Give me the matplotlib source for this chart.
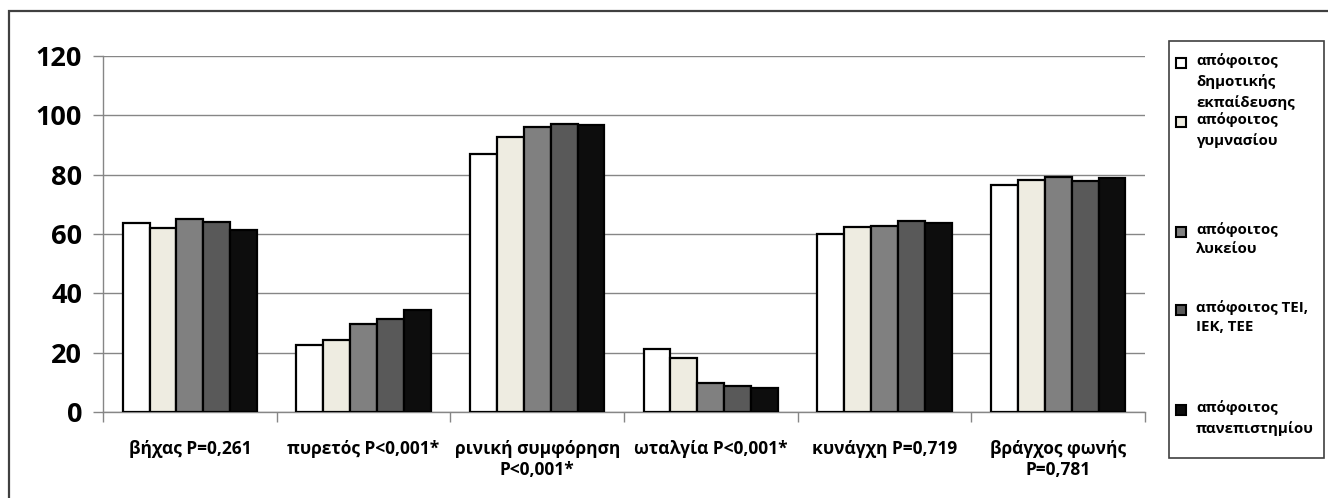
import numpy as np
import matplotlib.pyplot as plt
from matplotlib.patches import Rectangle

plt.rcParams['font.family'] = ['Open Sans', 'DejaVu Sans']
plt.rcParams['font.weight'] = 'bold'

categories = ['βήχας P=0,261', 'πυρετός P<0,001*', 'ρινική συμφόρηση\nP<0,001*',
              'ωταλγία P<0,001*', 'κυνάγχη P=0,719', 'βράγχος φωνής\nP=0,781']
series_names = ['απόφοιτος\nδημοτικής\nεκπαίδευσης', 'απόφοιτος\nγυμνασίου',
                'απόφοιτος\nλυκείου', 'απόφοιτος ΤΕΙ,\nΙΕΚ, ΤΕΕ', 'απόφοιτος\nπανεπιστημίου']
dimotiko = [63.6, 22.6, 86.8, 21.1, 60.1, 76.5]
gymnasio = [62.1, 24.3, 92.6, 18.3, 62.2, 78.1]
lykeio = [65.0, 29.8, 96.1, 9.7, 62.7, 79.2]
tei = [64.1, 31.2, 97.1, 8.8, 64.3, 77.9]
panepistimio = [61.2, 34.4, 96.6, 8.2, 63.6, 79.0]
yticks = [0, 20, 40, 60, 80, 100, 120]

values = [dimotiko, gymnasio, lykeio, tei, panepistimio]
colors = ['#ffffff', '#eeece1', '#808080', '#595959', '#0d0d0d']

fig = plt.figure(figsize=(13.28, 4.98), dpi=100)
ax = fig.add_axes([0.0776, 0.1727, 0.7846, 0.7149])

x = np.arange(len(categories))
bw = 0.155
for i, (vals, col) in enumerate(zip(values, colors)):
    ax.bar(x + (i - 2) * bw, vals, bw, color=col, edgecolor='black', linewidth=1.6, zorder=3)

ax.set_xlim(-0.5, len(categories) - 0.5)
ax.set_ylim(0, 120)
ax.set_yticks(yticks)
ax.set_yticklabels([str(v) for v in yticks], fontsize=19.5, fontweight='bold')
ax.yaxis.grid(True, color='#868686', linewidth=1, zorder=0)
ax.tick_params(axis='y', length=7, width=1, color='#868686', pad=8)

ax.set_xticks(x)
ax.set_xticklabels(categories, fontsize=12.5, fontweight='bold', linespacing=1.2)
ax.set_xticks(np.arange(-0.5, len(categories)), minor=True)
ax.tick_params(axis='x', which='major', length=0, pad=20)
ax.tick_params(axis='x', which='minor', length=7, width=1, color='#868686')

for s in ['top', 'right']:
    ax.spines[s].set_visible(False)
for s in ['left', 'bottom']:
    ax.spines[s].set_color('#868686')
    ax.spines[s].set_linewidth(1)

# legend drawn by hand to keep Excel-like uneven spacing
W, H = 1328.0, 498.0
fig.patches.append(Rectangle((1169 / W, 1 - 458 / H), 155 / W, 417 / H,
                             transform=fig.transFigure, fill=False,
                             edgecolor='#404040', linewidth=1.2))
legend_y = [63, 122, 232, 310, 410]
for name, col, yy in zip(series_names, colors, legend_y):
    fig.patches.append(Rectangle((1176 / W, 1 - (yy + 5) / H), 10 / W, 10 / H,
                                 transform=fig.transFigure, facecolor=col,
                                 edgecolor='black', linewidth=1.5))
    fig.text(1196 / W, 1 - (yy - 10) / H, name, fontsize=10.8, fontweight='bold',
             va='top', ha='left', linespacing=1.5)

# outer chart border
fig.patches.append(Rectangle((9 / W, -0.1), 1.2, 1.1 - 11 / H,
                             transform=fig.transFigure, fill=False,
                             edgecolor='#404040', linewidth=1.6))

fig.savefig('out.png', dpi=100)
